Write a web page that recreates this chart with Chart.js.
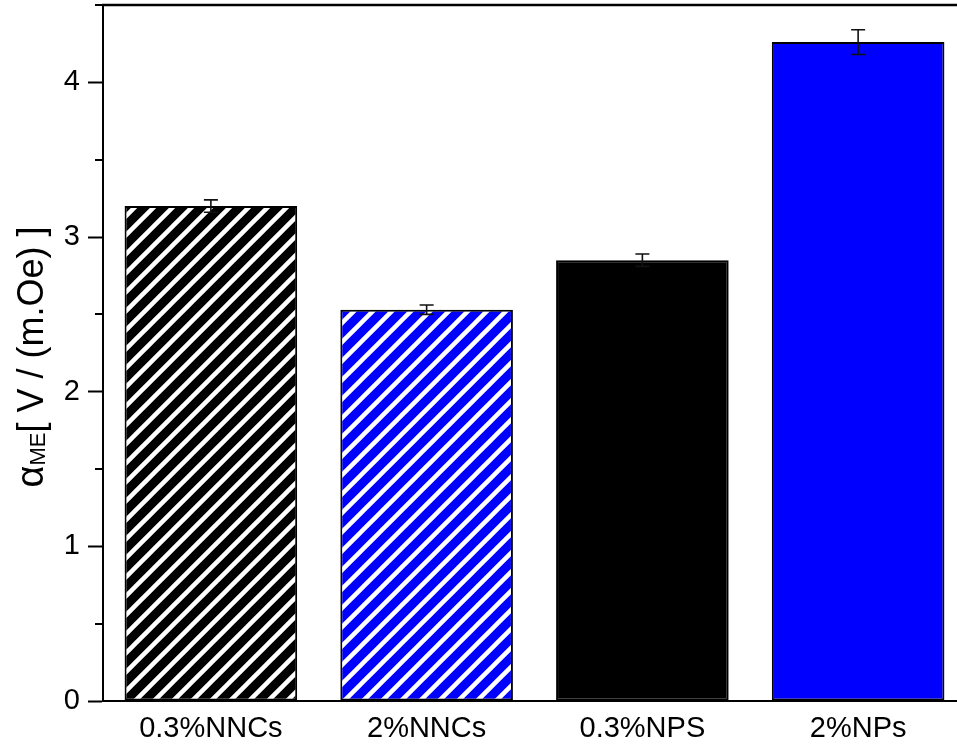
<!DOCTYPE html>
<html>
<head>
<meta charset="utf-8">
<script src="https://cdn.jsdelivr.net/npm/chart.js@4.4.1/dist/chart.umd.min.js"></script>
<style>
html, body { margin: 0; padding: 0; overflow: hidden; background: #fff; }
#wrap { width: 980px; height: 744px; }
</style>
</head>
<body>
<div id="wrap"><canvas id="meChart"></canvas></div>
<script>
// data
const categories = ['0.3%NNCs', '2%NNCs', '0.3%NPS', '2%NPs'];
const alphaME = [3.20, 2.53, 2.85, 4.26];
const alphaErr = [0.04, 0.03, 0.04, 0.08];
const yMajorTicks = [0, 1, 2, 3, 4];
const yMinorTicks = [0.5, 1.5, 2.5, 3.5, 4.5];

const FONT = '"Liberation Sans", Arial, sans-serif';
const canvas = document.getElementById('meChart');
const mainCtx = canvas.getContext('2d');

// diagonal white stripes over a colour
function hatch(bg) {
    const s = 19;
    const c = document.createElement('canvas');
    c.width = s; c.height = s;
    const g = c.getContext('2d');
    g.fillStyle = bg;
    g.fillRect(0, 0, s, s);
    g.strokeStyle = '#fff';
    g.lineWidth = 4.5;
    g.beginPath();
    g.moveTo(-5, 5); g.lineTo(5, -5);
    g.moveTo(0, s); g.lineTo(s, 0);
    g.moveTo(s - 5, s + 5); g.lineTo(s + 5, s - 5);
    g.stroke();
    return mainCtx.createPattern(c, 'repeat');
}

const barFills = [hatch('#000'), hatch('#0000ff'), '#000000', '#0000ff'];

// error bars, minor ticks, top frame and the y title
const extras = {
    id: 'extras',
    afterDatasetsDraw(chart) {
        const { ctx, scales: { x, y } } = chart;
        ctx.save();
        ctx.strokeStyle = '#111';
        ctx.lineWidth = 1.6;
        alphaME.forEach((v, i) => {
            const cx = x.getPixelForValue(i);
            const top = y.getPixelForValue(v + alphaErr[i]);
            const bot = y.getPixelForValue(v - alphaErr[i]);
            ctx.beginPath();
            ctx.moveTo(cx, top); ctx.lineTo(cx, bot);
            ctx.moveTo(cx - 7, top); ctx.lineTo(cx + 7, top);
            ctx.moveTo(cx - 7, bot); ctx.lineTo(cx + 7, bot);
            ctx.stroke();
        });
        ctx.restore();
    },
    afterDraw(chart) {
        const { ctx, chartArea: a, scales: { y } } = chart;
        ctx.save();
        ctx.strokeStyle = '#000';
        ctx.lineWidth = 2;
        ctx.beginPath();
        yMinorTicks.forEach(v => {
            const py = Math.round(y.getPixelForValue(v));
            ctx.moveTo(a.left - 8, py);
            ctx.lineTo(a.left, py);
        });
        ctx.stroke();

        // top frame
        ctx.lineWidth = 2.5;
        ctx.beginPath();
        ctx.moveTo(a.left - 1, a.top);
        ctx.lineTo(a.right + 20, a.top);
        ctx.stroke();

        // y title: alpha with subscript ME, then the unit
        const main = '[ V / (m.Oe) ]';
        ctx.fillStyle = '#000';
        ctx.textBaseline = 'alphabetic';
        ctx.font = '38px ' + FONT;
        const wA = ctx.measureText('\u03b1').width;
        ctx.font = '36px ' + FONT;
        const wMain = ctx.measureText(main).width;
        ctx.font = '22px ' + FONT;
        const wSub = ctx.measureText('ME').width;
        const total = wA + wSub + wMain;
        const mid = (a.top + a.bottom) / 2 + 4;
        ctx.translate(43, mid + total / 2);
        ctx.rotate(-Math.PI / 2);
        ctx.font = '38px ' + FONT;
        ctx.fillText('\u03b1', 0, 0);
        ctx.font = '22px ' + FONT;
        ctx.fillText('ME', wA, 2);
        ctx.font = '36px ' + FONT;
        ctx.fillText(main, wA + wSub, 0);
        ctx.restore();
    }
};

const meChart = new Chart(canvas, {
    type: 'bar',
    data: {
        labels: categories,
        datasets: [{
            data: alphaME,
            backgroundColor: barFills,
            borderColor: '#000',
            borderWidth: 2,
            borderSkipped: false,
            barPercentage: 0.8,
            categoryPercentage: 1
        }]
    },
    options: {
        responsive: true,
        maintainAspectRatio: false,
        animation: false,
        events: [],
        layout: { padding: { top: 5, right: 14, left: 0, bottom: 0 } },
        plugins: {
            legend: { display: false },
            tooltip: { enabled: false }
        },
        scales: {
            x: {
                afterFit: s => { s.height = 43; s.paddingLeft = 0; s.paddingRight = 0; },
                grid: { display: true, drawOnChartArea: false, drawTicks: false },
                border: { display: true, color: '#000', width: 2 },
                ticks: {
                    color: '#000',
                    padding: 11,
                    font: { family: FONT, size: 29 }
                }
            },
            y: {
                min: 0,
                max: 4.5,
                afterFit: s => { s.width = 103; s.paddingTop = 0; s.paddingBottom = 0; },
                afterBuildTicks: s => { s.ticks = yMajorTicks.map(v => ({ value: v })); },
                grid: {
                    display: true,
                    drawOnChartArea: false,
                    tickLength: 15,
                    tickWidth: 2,
                    tickColor: '#000'
                },
                border: { display: true, color: '#000', width: 2 },
                ticks: {
                    color: '#000',
                    padding: 8,
                    font: { family: FONT, size: 29 }
                }
            }
        }
    },
    plugins: [extras]
});
</script>
</body>
</html>
